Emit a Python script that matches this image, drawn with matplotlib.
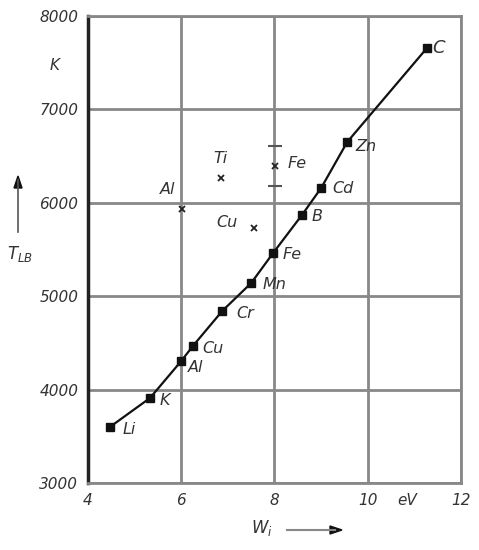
import matplotlib.pyplot as plt
import numpy as np

# elements on the curve
curve_names = ["Li", "K", "Al", "Cu", "Cr", "Mn", "Fe", "B", "Cd", "Zn", "C"]
curve_w = [4.47, 5.33, 6.0, 6.25, 6.88, 7.5, 7.97, 8.59, 9.0, 9.56, 11.27]
curve_t = [3600, 3910, 4306, 4467, 4842, 5141, 5462, 5870, 6158, 6651, 7657]

# scattered points off the curve
cross_names = ["Al", "Ti", "Cu", "Fe"]
cross_w = [6.02, 6.85, 7.56, 8.01]
cross_t = [5934, 6266, 5730, 6394]
fe_err = 215

x_ticks = [4, 6, 8, 10, 12]
y_ticks = [3000, 4000, 5000, 6000, 7000, 8000]

fig = plt.figure(figsize=(4.79, 5.5), dpi=100)
ax = fig.add_axes([0.1837, 0.1218, 0.7787, 0.8491])

ax.set_xlim(4, 12)
ax.set_ylim(3000, 8000)
ax.set_xticks(x_ticks)
ax.set_yticks(y_ticks)
ax.set_xticklabels([str(v) for v in x_ticks], fontsize=11, style="italic", color="#333333")
ax.set_yticklabels([str(v) for v in y_ticks], fontsize=11, style="italic", color="#333333")
# unit of the x axis sits in the tick label row
ax.set_xticks([10.85], ["eV"], minor=True)
for lbl in ax.get_xticklabels(minor=True):
    lbl.set_fontsize(11)
    lbl.set_style("italic")
    lbl.set_color("#333333")
ax.tick_params(which="both", length=0, pad=7)

ax.grid(True, which="major", color="#888888", linewidth=2.0)
ax.set_axisbelow(True)
for side in ["top", "right", "bottom"]:
    ax.spines[side].set_color("#888888")
    ax.spines[side].set_linewidth(2.0)
ax.spines["left"].set_color("#222222")
ax.spines["left"].set_linewidth(2.5)

ax.plot(curve_w, curve_t, color="#111111", linewidth=1.6, marker="s",
        markersize=6, markerfacecolor="#111111", zorder=3)

ax.plot(cross_w, cross_t, linestyle="none", marker="x", markersize=4,
        markeredgewidth=1.3, color="#222222", zorder=3)
ax.errorbar([cross_w[3]], [cross_t[3]], yerr=fe_err, fmt="none",
            ecolor="#555555", elinewidth=0, capsize=5, capthick=1.5, zorder=3)

curve_offsets = [(9, -2), (7, -2), (5, -5), (7, -2), (10, -2), (8, -1),
                 (7, -1), (7, -1), (8, 0), (6, -3), (4, 0)]
curve_sizes = [11.5] * 10 + [13]
for name, w, t, off, fs in zip(curve_names, curve_w, curve_t, curve_offsets, curve_sizes):
    ax.annotate(name, (w, t), xytext=off, textcoords="offset points",
                fontsize=fs, style="italic", color="#333333", va="center")

cross_offsets = [(-5, 14), (0, 14), (-12, 4), (9, 2)]
cross_ha = ["right", "center", "right", "left"]
for name, w, t, off, ha in zip(cross_names, cross_w, cross_t, cross_offsets, cross_ha):
    ax.annotate(name, (w, t), xytext=off, textcoords="offset points",
                fontsize=11.5, style="italic", color="#333333", va="center", ha=ha)

fig.text(55 / 479, 1 - 66 / 550, "K", fontsize=11, style="italic", color="#333333",
         ha="center", va="center")

# axis titles with arrows
fig.text(20 / 479, 1 - 254 / 550, "$T_{LB}$", fontsize=12, style="italic",
         color="#333333", ha="center", va="center")
fig.add_artist(plt.Line2D([18 / 479, 18 / 479], [1 - 232 / 550, 1 - 180 / 550],
                          color="#555555", linewidth=1.2))
fig.add_artist(plt.Polygon([[14 / 479, 1 - 188 / 550], [22 / 479, 1 - 188 / 550],
                            [18 / 479, 1 - 176 / 550]], closed=True, color="#111111"))

fig.text(262 / 479, 1 - 528 / 550, "$W_i$", fontsize=12, style="italic",
         color="#333333", ha="center", va="center")
fig.add_artist(plt.Line2D([287 / 479, 335 / 479], [1 - 530 / 550, 1 - 530 / 550],
                          color="#888888", linewidth=1.5))
fig.add_artist(plt.Polygon([[330 / 479, 1 - 526 / 550], [330 / 479, 1 - 534 / 550],
                            [342 / 479, 1 - 530 / 550]], closed=True, color="#111111"))

fig.savefig("out.png", dpi=100)
